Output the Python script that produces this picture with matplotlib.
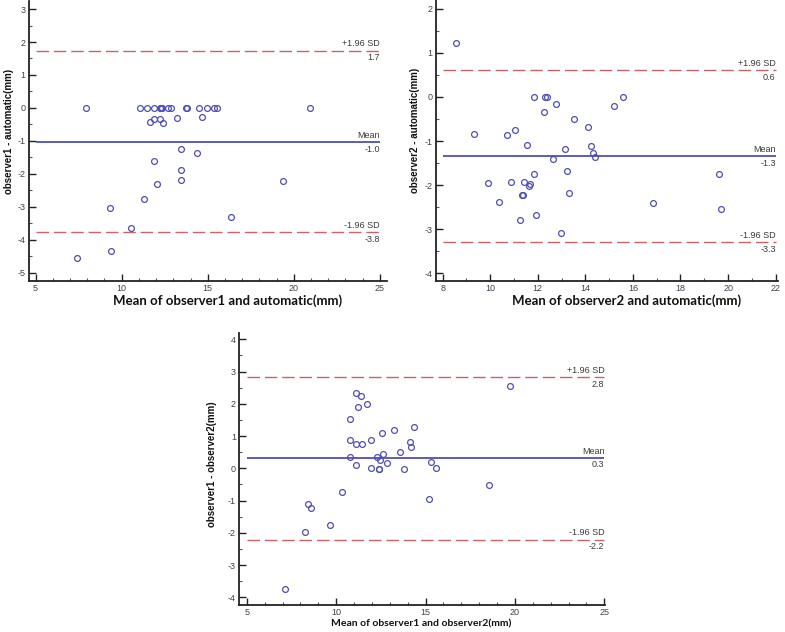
import numpy as np
import matplotlib
matplotlib.use("Agg")
import matplotlib.pyplot as plt
from matplotlib.ticker import MultipleLocator

plt.rcParams["axes.unicode_minus"] = False

# panel 1: observer1 vs automatic
p1_mean_x = [7.42, 7.92, 9.38, 9.34, 10.54, 11.29, 11.08, 11.45, 11.64, 11.87,
             11.89, 11.89, 12.05, 12.22, 12.24, 12.30, 12.36, 12.40, 12.67, 12.84,
             13.21, 13.42, 13.42, 13.42, 13.71, 13.77, 14.39, 14.49, 14.64, 14.95,
             15.36, 15.53, 16.35, 19.35, 20.93]
p1_diff = [-4.54, 0.0, -4.33, -3.04, -3.63, -2.77, 0.0, 0.0, -0.42, 0.0,
           -0.33, -1.61, -2.32, 0.0, -0.33, 0.0, 0.0, -0.45, 0.0, 0.0,
           -0.31, -1.24, -1.88, -2.18, 0.0, 0.0, -1.37, 0.0, -0.29, 0.0,
           0.0, 0.0, -3.32, -2.23, 0.0]
p1_lines = [1.74, -1.03, -3.78]
p1_line_labels = ["1.7", "-1.0", "-3.8"]

# panel 2: observer2 vs automatic
p2_mean_x = [8.57, 9.30, 9.90, 10.37, 10.70, 10.88, 11.05, 11.26, 11.33, 11.36,
             11.42, 11.53, 11.64, 11.68, 11.84, 11.86, 11.91, 12.26, 12.30, 12.38,
             12.66, 12.76, 12.97, 13.15, 13.24, 13.32, 13.53, 14.13, 14.23, 14.33,
             14.41, 15.22, 15.59, 16.86, 19.61, 19.69]
p2_diff = [1.22, -0.85, -1.95, -2.38, -0.86, -1.93, -0.75, -2.79, -2.23, -2.22,
           -1.93, -1.09, -2.03, -1.97, -1.74, -0.01, -2.68, -0.34, 0.0, 0.0,
           -1.40, -0.15, -3.09, -1.18, -1.69, -2.17, -0.49, -0.68, -1.12, -1.28,
           -1.37, -0.20, 0.0, -2.40, -1.76, -2.54]
p2_lines = [0.61, -1.34, -3.29]
p2_line_labels = ["0.6", "-1.3", "-3.3"]

# panel 3: observer1 vs observer2
p3_mean_x = [7.12, 8.27, 8.45, 8.62, 9.66, 10.32, 10.75, 10.75, 10.79, 11.09,
             11.09, 11.12, 11.20, 11.40, 11.46, 11.72, 11.96, 11.96, 12.31, 12.38,
             12.42, 12.44, 12.57, 12.64, 12.85, 13.22, 13.59, 13.78, 14.11, 14.18,
             14.33, 15.20, 15.30, 15.59, 18.53, 19.71]
p3_diff = [-3.73, -1.96, -1.10, -1.24, -1.75, -0.74, 1.52, 0.88, 0.34, 2.34,
           0.11, 0.76, 1.90, 2.23, 0.74, 1.99, 0.88, 0.02, 0.34, -0.01,
           -0.01, 0.26, 1.09, 0.44, 0.16, 1.20, 0.49, -0.02, 0.81, 0.67,
           1.28, -0.95, 0.21, 0.0, -0.51, 2.55]
p3_lines = [2.82, 0.33, -2.21]
p3_line_labels = ["2.8", "0.3", "-2.2"]

line_names = ["+1.96 SD", "Mean", "-1.96 SD"]

BLUE = "#4f4fb4"
RED = "#c86464"
TXT = "#3a3a3a"

fig = plt.figure(figsize=(7.85, 6.32), dpi=100)


def bland_altman(rect, xs, ys, lines, labels, xlim, ylim, xticks, yticks,
                 xlabel, ylabel, xlab_pos, ylab_pos, xlab_size):
    ax = fig.add_axes(rect)
    ax.set_xlim(*xlim)
    ax.set_ylim(*ylim)
    x0, x1 = xticks[0], xticks[-1]
    for i, (val, lab) in enumerate(zip(lines, labels)):
        if i == 1:
            ax.plot([x0, x1], [val, val], color=BLUE, lw=1.3, solid_capstyle="butt")
        else:
            ax.plot([x0, x1], [val, val], color=RED, lw=1.0,
                    linestyle=(0, (9.0, 3.5)))
        ax.annotate(line_names[i], (x1, val), xytext=(0, 1.5),
                    textcoords="offset points", ha="right", va="bottom",
                    fontsize=6.5, color=TXT, family="Liberation Sans")
        ax.annotate(lab, (x1, val), xytext=(0, -2),
                    textcoords="offset points", ha="right", va="top",
                    fontsize=6.5, color=TXT, family="Liberation Sans")
    ax.plot(xs, ys, "o", mfc="none", mec=BLUE, ms=4.2, mew=0.9)

    for s in ["top", "right"]:
        ax.spines[s].set_visible(False)
    for s in ["left", "bottom"]:
        ax.spines[s].set_linewidth(1.3)
        ax.spines[s].set_color("#222222")
    ax.set_xticks(xticks)
    ax.set_yticks(yticks)
    ax.xaxis.set_minor_locator(MultipleLocator(1))
    ax.yaxis.set_minor_locator(MultipleLocator(0.5))
    ax.tick_params(which="major", direction="in", length=5, width=1.0,
                   color="#222222", labelsize=6.5, labelcolor="#404050", pad=2.5)
    ax.tick_params(which="minor", direction="in", length=2, width=0.8,
                   color="#555555")
    for t in ax.get_xticklabels() + ax.get_yticklabels():
        t.set_family("Liberation Sans")
    ax.set_xlabel(xlabel, fontsize=xlab_size, fontweight="bold", family="Lato",
                  color="#111111", va="center")
    ax.xaxis.set_label_coords(*xlab_pos)
    ax.set_ylabel(ylabel, fontsize=7, fontweight="bold", family="Liberation Sans",
                  color="#111111", va="center")
    ax.yaxis.set_label_coords(*ylab_pos)
    return ax


bland_altman([0.0373, 0.5560, 0.4552, 0.4422], p1_mean_x, p1_diff, p1_lines,
             p1_line_labels, (4.63, 25.39), (-5.24, 3.24),
             [5, 10, 15, 20, 25], list(range(-5, 4)),
             "Mean of observer1 and automatic(mm)", "observer1 - automatic(mm)",
             (0.554, -0.072), (-0.057, 0.535), 9.5)

bland_altman([0.5554, 0.5560, 0.4357, 0.4438], p2_mean_x, p2_diff, p2_lines,
             p2_line_labels, (7.72, 22.1), (-4.17, 2.2),
             [8, 10, 12, 14, 16, 18, 20, 22], list(range(-4, 3)),
             "Mean of observer2 and automatic(mm)", "observer2 - automatic(mm)",
             (0.556, -0.071), (-0.061, 0.535), 9.5)

bland_altman([0.3050, 0.0432, 0.4660, 0.4296], p3_mean_x, p3_diff, p3_lines,
             p3_line_labels, (4.59, 25.05), (-4.23, 4.19),
             [5, 10, 15, 20, 25], list(range(-4, 5)),
             "Mean of observer1 and observer2(mm)", "observer1 - observer2(mm)",
             (0.498, -0.071), (-0.076, 0.518), 7.5)

fig.savefig("out.png", dpi=100)
